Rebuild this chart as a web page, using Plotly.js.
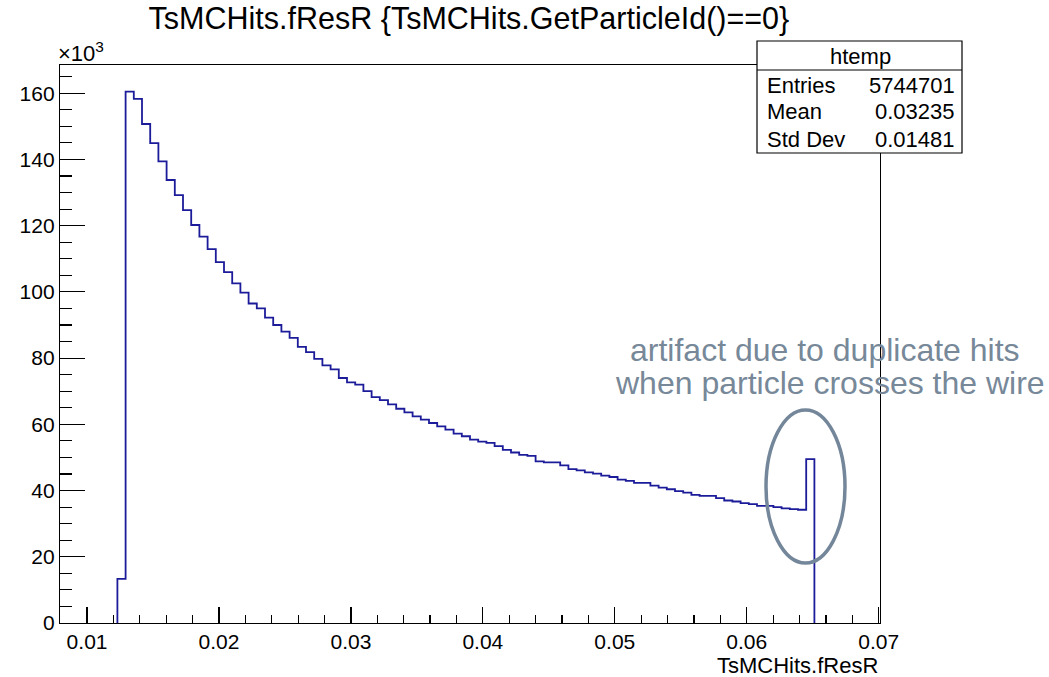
<!DOCTYPE html>
<html>
<head>
<meta charset="utf-8">
<script src="https://cdn.plot.ly/plotly-3.0.1.min.js"></script>
<style>
  html, body { margin: 0; padding: 0; background: #ffffff; }
  #chart { width: 1049px; height: 677px; }
</style>
</head>
<body>
<div id="chart"></div>
<script>
// Histogram definition (ROOT htemp): 100 equal bins
const histLow = 0.00795;
const histHigh = 0.0701;
const nBins = 100;

// Bin contents, in units of 10^3 entries
const counts = [
  0, 0, 0, 0, 0, 0, 0,
  13.3, 160.5, 158.3, 150.7, 144.9, 139.4, 133.8, 129.2, 124.7, 120.2,
  116.7, 112.9, 109.0, 106.0, 102.6, 99.8, 96.5, 95.0, 92.2, 90.0,
  88.0, 86.1, 83.4, 81.8, 79.8, 77.8, 76.6, 74.0, 72.7, 72.0,
  70.0, 68.2, 67.3, 66.0, 64.7, 63.6, 62.4, 61.4, 60.4, 59.4,
  58.4, 57.2, 56.4, 55.4, 54.8, 54.4, 53.4, 52.3, 51.5, 50.8,
  50.5, 48.8, 48.5, 48.5, 47.6, 46.5, 46.1, 45.5, 45.1, 44.5,
  44.1, 43.3, 42.9, 42.3, 42.3, 41.5, 40.9, 40.4, 39.8, 39.4,
  38.7, 38.4, 38.4, 37.7, 37.0, 36.7, 36.2, 35.9, 35.4, 35.4,
  35.0, 34.6, 34.4, 34.2, 49.5,
  0, 0, 0, 0, 0, 0, 0, 0
];

// Text content
const chartTitle = "TsMCHits.fResR {TsMCHits.GetParticleId()==0}";
const xTitle = "TsMCHits.fResR";
const statsName = "htemp";
const statsLabels = ["Entries", "Mean", "Std Dev"];
const statsValues = ["5744701", "0.03235", "0.01481"];
const noteLines = ["artifact due to duplicate hits", "when particle crosses the wire"];

// Build step outline over the filled bin range
const binW = (histHigh - histLow) / nBins;
let first = counts.findIndex(c => c > 0);
let last = nBins - 1; while (last > 0 && counts[last] === 0) last--;
const xs = [histLow + first * binW], ys = [0];
for (let i = first; i <= last; i++) { xs.push(histLow + i * binW); ys.push(counts[i]); }
xs.push(histLow + (last + 1) * binW); ys.push(counts[last]);
xs.push(histLow + (last + 1) * binW); ys.push(0);

const FONT = "Liberation Sans, Arial, Helvetica, sans-serif";
const yMax = Math.max(...counts) * 1.05;

// pixel helpers for plot-area (frame) relative placement
const L = 60, R = 880, T = 65, B = 623;
const px = v => (v - L) / (R - L);
const py = v => (B - v) / (B - T);

const trace = {
  x: xs, y: ys, type: 'scatter', mode: 'lines',
  line: { shape: 'hv', color: '#1c1c9a', width: 1.8 },
  hoverinfo: 'x+y', showlegend: false
};

const annotations = [
  { xref: 'paper', yref: 'paper', x: px(56), y: py(52), xanchor: 'left', yanchor: 'middle',
    text: '\u00d710<sup>3</sup>', showarrow: false, font: { family: FONT, size: 22, color: '#000' } },
  { xref: 'paper', yref: 'paper', x: 1, y: py(665), xanchor: 'right', yanchor: 'middle',
    text: xTitle, showarrow: false, font: { family: FONT, size: 22, color: '#000' } },
  { xref: 'paper', yref: 'paper', x: px(860), y: py(56), xanchor: 'center', yanchor: 'middle',
    text: statsName, showarrow: false, font: { family: FONT, size: 22, color: '#000' } },
  { xref: 'paper', yref: 'paper', x: px(825), y: py(350), xanchor: 'center', yanchor: 'middle',
    text: noteLines[0], showarrow: false, font: { family: FONT, size: 32, color: '#778899' } },
  { xref: 'paper', yref: 'paper', x: px(830), y: py(383), xanchor: 'center', yanchor: 'middle',
    text: noteLines[1], showarrow: false, font: { family: FONT, size: 32, color: '#778899' } }
];
const rowY = [85, 112, 139];
statsLabels.forEach((lab, i) => {
  annotations.push({ xref: 'paper', yref: 'paper', x: px(765), y: py(rowY[i]), xanchor: 'left', yanchor: 'middle',
    text: lab, showarrow: false, font: { family: FONT, size: 22, color: '#000' } });
  annotations.push({ xref: 'paper', yref: 'paper', x: px(957), y: py(rowY[i]), xanchor: 'right', yanchor: 'middle',
    text: statsValues[i], showarrow: false, font: { family: FONT, size: 22, color: '#000' } });
});

const shapes = [
  { type: 'rect', xref: 'paper', yref: 'paper', x0: px(757), x1: px(962), y0: py(153), y1: py(41),
    line: { color: '#000', width: 1.2 }, fillcolor: '#ffffff', layer: 'above' },
  { type: 'line', xref: 'paper', yref: 'paper', x0: px(757), x1: px(962), y0: py(70), y1: py(70),
    line: { color: '#000', width: 1.2 }, layer: 'above' },
  { type: 'circle', xref: 'paper', yref: 'paper', x0: px(766), x1: px(845), y0: py(563), y1: py(410),
    line: { color: '#74879a', width: 3.5 }, layer: 'above' }
];

const layout = {
  width: 1049, height: 677,
  margin: { l: L, r: 1049 - R, t: T, b: 677 - B, pad: 0 },
  paper_bgcolor: '#ffffff', plot_bgcolor: '#ffffff',
  font: { family: FONT, size: 21, color: '#000' },
  title: { text: chartTitle, x: 0.447, xref: 'container', xanchor: 'center',
           y: 1 - 18 / 677, yref: 'container', yanchor: 'middle',
           font: { family: FONT, size: 30.5, color: '#000' } },
  xaxis: {
    range: [histLow, histHigh], showgrid: false, zeroline: false,
    showline: true, mirror: true, linecolor: '#000', linewidth: 1.2,
    ticks: 'inside', ticklen: 16, tickwidth: 1.2, tickcolor: '#000',
    tick0: 0, dtick: 0.01, tickformat: '.2f',
    minor: { ticks: 'inside', dtick: 0.002, tick0: 0, ticklen: 8, tickwidth: 1.2, tickcolor: '#000', showgrid: false },
    tickfont: { family: FONT, size: 21, color: '#000' }
  },
  yaxis: {
    range: [0, yMax], showgrid: false, zeroline: false,
    showline: true, mirror: true, linecolor: '#000', linewidth: 1.2,
    ticks: 'inside', ticklen: 25, tickwidth: 1.2, tickcolor: '#000',
    tick0: 0, dtick: 20,
    minor: { ticks: 'inside', dtick: 5, tick0: 0, ticklen: 12, tickwidth: 1.2, tickcolor: '#000', showgrid: false },
    tickfont: { family: FONT, size: 21, color: '#000' }
  },
  annotations: annotations,
  shapes: shapes,
  showlegend: false
};

Plotly.newPlot('chart', [trace], layout, { displayModeBar: false, staticPlot: true });
</script>
</body>
</html>
